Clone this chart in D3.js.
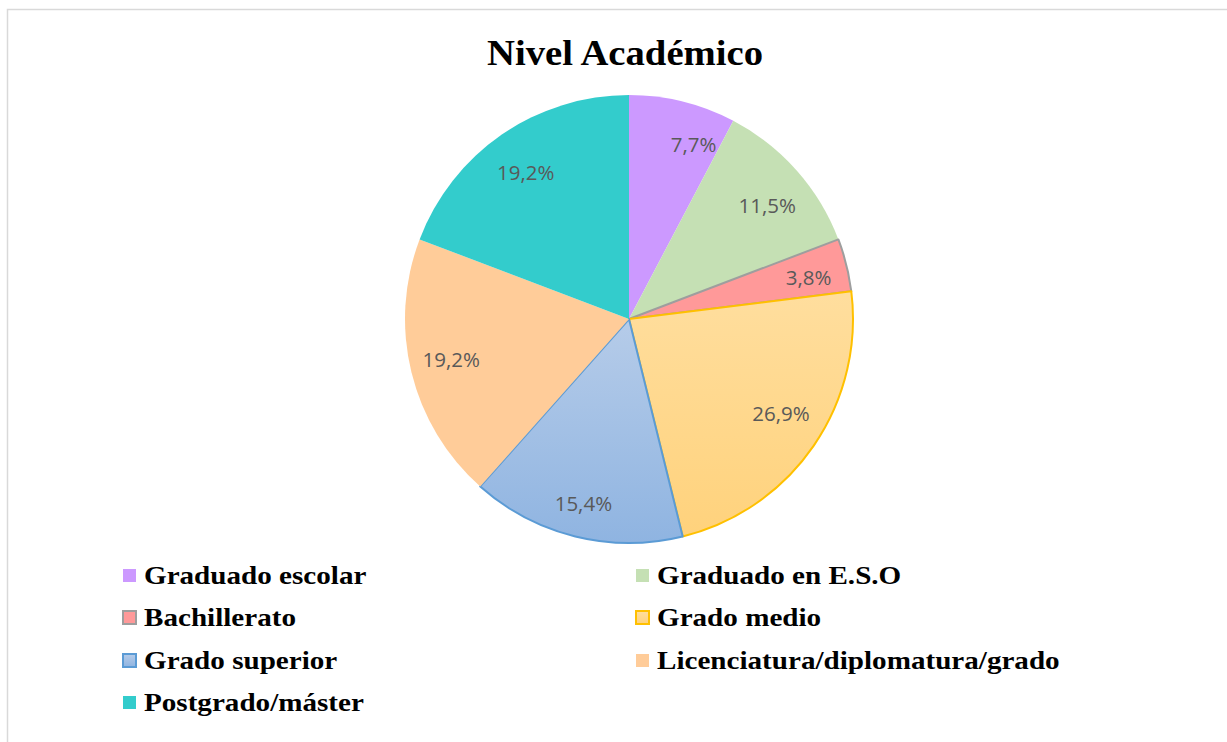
<!DOCTYPE html>
<html>
<head>
<meta charset="utf-8">
<script src="https://cdn.jsdelivr.net/npm/d3@7"></script>
<style>
  html, body { margin: 0; padding: 0; background: #fff; }
  svg { display: block; }
</style>
</head>
<body>
<svg id="chart" width="1227" height="742"></svg>
<script>
// ---- data ----
const categories = ["Graduado escolar", "Graduado en E.S.O", "Bachillerato", "Grado medio",
                    "Grado superior", "Licenciatura/diplomatura/grado", "Postgrado/máster"];
const sliceValues = [7.7, 11.5, 3.8, 23.1, 15.4, 19.2, 19.2];
const sliceLabels = ["7,7%", "11,5%", "3,8%", "26,9%", "15,4%", "19,2%", "19,2%"];
const title = "Nivel Académico";

// ---- styles / layout ----
const fills = ["#CC99FF", "#C5E0B4", "#FF9999", "url(#gYellow)", "url(#gBlue)", "#FFCC99", "#33CCCC"];
const strokes = [null, null, "#9E9E9E", "#FFC000", "#5B9BD5", null, null];
const labelNudge = [[21, 2], [2, 7], [3, 2], [2, -9], [-2, 7], [-1, -3], [0, 3]];

const svg = d3.select("#chart");
const W = 1227, H = 742;

const defs = svg.append("defs");
function grad(id, c1, c2) {
  const g = defs.append("linearGradient").attr("id", id)
    .attr("x1", 0).attr("y1", 0).attr("x2", 0).attr("y2", 1);
  g.append("stop").attr("offset", "0%").attr("stop-color", c1);
  g.append("stop").attr("offset", "100%").attr("stop-color", c2);
}
grad("gYellow", "#FFDE9E", "#FFD27C");
grad("gBlue", "#B6CCE9", "#8FB4E1");

// chart border
svg.append("rect").attr("x", 7.5).attr("y", 9.5).attr("width", W + 10).attr("height", H + 10)
  .attr("fill", "none").attr("stroke", "#D9D9D9").attr("stroke-width", 1.5);

// title
svg.append("text").attr("transform", "translate(625,65) scale(1.075,1)").attr("text-anchor", "middle")
  .attr("font-family", "'Liberation Serif', 'Times New Roman', serif")
  .attr("font-weight", "bold").attr("font-size", 36).attr("fill", "#000")
  .text(title);

// pie
const cx = 629, cy = 319, R = 224;
const pie = d3.pie().sort(null).value(d => d)(sliceValues);
const arc = d3.arc().innerRadius(0).outerRadius(R);
const labelArc = d3.arc().innerRadius(182).outerRadius(182);

const g = svg.append("g").attr("transform", `translate(${cx},${cy})`);
g.selectAll("path.slice").data(pie).enter().append("path")
  .attr("class", "slice")
  .attr("d", arc)
  .attr("fill", (d, i) => fills[i])
  .attr("stroke", (d, i) => strokes[i] || "none")
  .attr("stroke-width", 2)
  .attr("stroke-linejoin", "round");

g.selectAll("text.lbl").data(pie).enter().append("text")
  .attr("class", "lbl")
  .attr("transform", (d, i) => {
    const c = labelArc.centroid(d);
    return `translate(${c[0] + labelNudge[i][0]},${c[1] + labelNudge[i][1]})`;
  })
  .attr("text-anchor", "middle").attr("dominant-baseline", "central")
  .attr("font-family", "'Open Sans', 'Noto Sans', sans-serif")
  .attr("font-size", 20.5).attr("fill", "#595959")
  .text((d, i) => sliceLabels[i]);

// legend
const colX = [122, 635];
const rowY = [576, 618, 661, 703];
const leg = svg.append("g");
categories.forEach((c, i) => {
  const col = i % 2, row = Math.floor(i / 2);
  const x = colX[col], y = rowY[row];
  leg.append("rect").attr("x", x + 1).attr("y", y - 7).attr("width", 13).attr("height", 13)
    .attr("fill", fills[i])
    .attr("stroke", strokes[i] || "none").attr("stroke-width", 2);
  leg.append("text").attr("transform", `translate(${x + 22},${y + 8}) scale(1.12,1)`)
    .attr("font-family", "'Liberation Serif', 'Times New Roman', serif")
    .attr("font-weight", "bold").attr("font-size", 26).attr("fill", "#000")
    .text(c);
});
</script>
</body>
</html>
